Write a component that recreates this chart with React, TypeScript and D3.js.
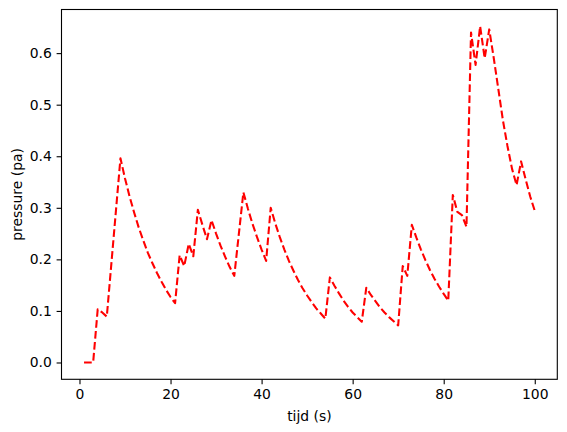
import React, { useEffect, useRef } from 'react';
import * as d3 from 'd3';

// values
const tijd = [
  1, 2, 3, 4, 5, 6, 9, 10, 11, 12, 13, 14, 15, 16, 17, 18, 19, 20, 21, 22, 23, 24, 25, 26, 27, 28, 29, 30,
  31, 32, 33, 34, 36, 37, 38, 39, 40, 41, 42, 43, 44, 45, 46, 47, 48, 49, 50, 51, 52, 53, 54, 55, 56, 57,
  58, 59, 60, 61, 62, 63, 64, 65, 66, 67, 68, 69, 70, 71, 72, 73, 74, 75, 76, 77, 78, 79, 80, 81, 82, 83,
  84, 85, 86, 87, 88, 89, 90, 91, 92, 93, 94, 95, 96, 97, 98, 99, 100,
];
const pressure = [
  0, 0, 0, 0.103, 0.097, 0.089, 0.396, 0.357, 0.322, 0.291, 0.262, 0.237, 0.213, 0.193, 0.174, 0.157,
  0.141, 0.127, 0.115, 0.208, 0.187, 0.23, 0.206, 0.296, 0.267, 0.239, 0.276, 0.25, 0.226, 0.205, 0.185,
  0.168, 0.33, 0.298, 0.269, 0.243, 0.219, 0.197, 0.3, 0.27, 0.243, 0.219, 0.197, 0.178, 0.16, 0.144,
  0.13, 0.117, 0.105, 0.095, 0.085, 0.165, 0.149, 0.134, 0.12, 0.108, 0.097, 0.088, 0.079, 0.145, 0.131,
  0.119, 0.107, 0.097, 0.088, 0.08, 0.072, 0.187, 0.168, 0.267, 0.242, 0.219, 0.198, 0.179, 0.162, 0.147,
  0.133, 0.12, 0.325, 0.292, 0.286, 0.263, 0.64, 0.577, 0.652, 0.59, 0.646, 0.59, 0.53, 0.47, 0.42, 0.376,
  0.344, 0.39, 0.355, 0.322, 0.294,
];
const xTicks = [0, 20, 40, 60, 80, 100];
const yTicks = [0, 0.1, 0.2, 0.3, 0.4, 0.5, 0.6];

const W = 567;
const H = 432;
const FONT = 'DejaVu Sans, sans-serif';

const App: React.FC = () => {
  const svgRef = useRef<SVGSVGElement>(null);

  useEffect(() => {
    if (!svgRef.current) return;
    const svg = d3.select(svgRef.current);
    svg.selectAll('*').remove();

    const left = 61.5, right = 557.3, top = 9.5, bottom = 379.3;

    // matplotlib style 5% margins
    const [x0, x1] = d3.extent(tijd) as [number, number];
    const [y0, y1] = d3.extent(pressure) as [number, number];
    const xPad = (x1 - x0) * 0.05;
    const yPad = (y1 - y0) * 0.05;
    const xScale = d3.scaleLinear().domain([x0 - xPad, x1 + xPad]).range([left, right]);
    const yScale = d3.scaleLinear().domain([y0 - yPad, y1 + yPad]).range([bottom, top]);

    svg.append('rect')
      .attr('width', W).attr('height', H).attr('fill', '#fff');

    // data line
    const line = d3.line<number>()
      .x((_, i) => xScale(tijd[i]))
      .y(d => yScale(d));

    svg.append('path')
      .datum(pressure)
      .attr('d', line)
      .attr('fill', 'none')
      .attr('stroke', '#ff0000')
      .attr('stroke-width', 2.08)
      .attr('stroke-dasharray', '7.7,3.3')
      .attr('stroke-linejoin', 'round');

    // x axis
    const xAxis = svg.append('g')
      .attr('transform', `translate(0,${bottom})`)
      .call(d3.axisBottom(xScale).tickValues(xTicks).tickSize(4.9).tickPadding(4.5).tickSizeOuter(0).tickFormat(d3.format('d')));
    xAxis.select('.domain').remove();
    xAxis.selectAll('line').attr('stroke', '#000').attr('stroke-width', 1.1);
    xAxis.selectAll('text').attr('font-family', FONT).attr('font-size', 13.9).attr('fill', '#000');

    // y axis
    const yAxis = svg.append('g')
      .attr('transform', `translate(${left},0)`)
      .call(d3.axisLeft(yScale).tickValues(yTicks).tickSize(4.9).tickPadding(4.8).tickSizeOuter(0).tickFormat(d3.format('.1f')));
    yAxis.select('.domain').remove();
    yAxis.selectAll('line').attr('stroke', '#000').attr('stroke-width', 1.1);
    yAxis.selectAll('text').attr('font-family', FONT).attr('font-size', 13.9).attr('fill', '#000');

    // frame
    svg.append('rect')
      .attr('x', left).attr('y', top)
      .attr('width', right - left).attr('height', bottom - top)
      .attr('fill', 'none')
      .attr('stroke', '#000')
      .attr('stroke-width', 1.1);

    svg.append('text')
      .attr('x', (left + right) / 2)
      .attr('y', 421)
      .attr('text-anchor', 'middle')
      .attr('font-family', FONT)
      .attr('font-size', 13.9)
      .text('tijd (s)');

    svg.append('text')
      .attr('transform', `translate(22,${(top + bottom) / 2}) rotate(-90)`)
      .attr('text-anchor', 'middle')
      .attr('font-family', FONT)
      .attr('font-size', 13.9)
      .text('pressure (pa)');
  }, []);

  return (
    <svg ref={svgRef} width={W} height={H} style={{ position: 'absolute', left: 0, top: 0 }}></svg>
  );
};

export default App;
